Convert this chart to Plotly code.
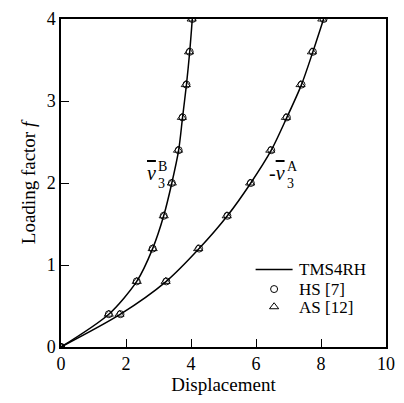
import plotly.graph_objects as go

f_vals = [0, 0.4, 0.8, 1.2, 1.6, 2.0, 2.4, 2.8, 3.2, 3.6, 4.0]
vB_tms = [0, 1.47, 2.33, 2.82, 3.16, 3.41, 3.62, 3.74, 3.86, 3.96, 4.04]
vA_tms = [0, 1.83, 3.24, 4.25, 5.12, 5.84, 6.47, 6.95, 7.40, 7.75, 8.08]
vB_hs = [0, 1.47, 2.33, 2.82, 3.16, 3.41, 3.62, 3.74, 3.86, 3.96, 4.04]
vA_hs = [0, 1.83, 3.24, 4.25, 5.12, 5.84, 6.47, 6.95, 7.40, 7.75, 8.08]
vB_as = [0, 1.47, 2.33, 2.82, 3.16, 3.41, 3.60, 3.72, 3.84, 3.94, 4.02]
vA_as = [0, 1.80, 3.22, 4.22, 5.10, 5.82, 6.44, 6.92, 7.37, 7.72, 8.04]

FONT = "Liberation Serif"
fig = go.Figure()

for xs in (vB_tms, vA_tms):
    fig.add_trace(go.Scatter(x=xs, y=f_vals, mode="lines", line=dict(color="black", width=1.5, shape="spline", smoothing=0.8),
                             showlegend=False, hoverinfo="skip"))
for xs in (vB_hs, vA_hs):
    fig.add_trace(go.Scatter(x=xs, y=f_vals, mode="markers",
                             marker=dict(symbol="circle-open", size=7, color="black", line=dict(width=0.9)),
                             showlegend=False))
for xs in (vB_as, vA_as):
    fig.add_trace(go.Scatter(x=xs, y=f_vals, mode="markers",
                             marker=dict(symbol="triangle-up-open", size=8, color="black", line=dict(width=0.9)),
                             showlegend=False))

# legend (drawn in paper coordinates)
fig.add_shape(type="line", xref="paper", yref="paper", x0=(261-61)/334, x1=(299-61)/334,
              y0=(347-268)/334, y1=(347-268)/334, line=dict(color="black", width=1.5))
fig.add_trace(go.Scatter(x=[(280-61)/33.4], y=[(347-288)/83.5], mode="markers",
                         marker=dict(symbol="circle-open", size=7, color="black", line=dict(width=1)),
                         showlegend=False, hoverinfo="skip"))
fig.add_trace(go.Scatter(x=[(280-61)/33.4], y=[(347-306)/83.5], mode="markers",
                         marker=dict(symbol="triangle-up-open", size=8, color="black", line=dict(width=1)),
                         showlegend=False, hoverinfo="skip"))
for txt, ypx in (("TMS4RH", 268), ("HS [7]", 288), ("AS [12]", 307)):
    fig.add_annotation(x=(304-61)/334, y=(347-ypx)/334, xref="paper", yref="paper", text=txt,
                       showarrow=False, xanchor="left", yanchor="middle", font=dict(family=FONT, size=17, color="black"))

# curve labels
def vlabel(xd, yd, prefix, sup):
    fig.add_annotation(x=xd, y=yd, text=prefix + '<i><span style="text-decoration:overline">v</span></i>',
                       showarrow=False, xanchor="right", yanchor="middle",
                       font=dict(family=FONT, size=20, color="black"))
    fig.add_annotation(x=xd, y=yd, text=sup, showarrow=False, xanchor="left", yanchor="middle", yshift=7, xshift=-2,
                       font=dict(family=FONT, size=14, color="black"))
    fig.add_annotation(x=xd, y=yd, text="3", showarrow=False, xanchor="left", yanchor="middle", yshift=-10, xshift=-2,
                       font=dict(family=FONT, size=14, color="black"))

vlabel(2.98, 2.12, "", "B")
vlabel(6.95, 2.12, "-", "A")

fig.update_xaxes(range=[0, 10], tickvals=[0, 2, 4, 6, 8, 10], ticks="inside", ticklen=8, tickwidth=1.3,
                 tickcolor="black", showline=True, linecolor="black", linewidth=1.5, mirror=True,
                 showgrid=False, zeroline=False, tickfont=dict(family=FONT, size=18, color="black"),
                 title=dict(text="Displacement", font=dict(family=FONT, size=19, color="black"), standoff=0))
fig.update_yaxes(range=[0, 4], tickvals=[0, 1, 2, 3, 4], ticks="inside", ticklen=8, tickwidth=1.3,
                 tickcolor="black", showline=True, linecolor="black", linewidth=1.5, mirror=True,
                 showgrid=False, zeroline=False, tickfont=dict(family=FONT, size=18, color="black"),
                 title=dict(text="Loading factor <i>f</i>", font=dict(family=FONT, size=19, color="black"), standoff=6))
fig.update_layout(width=404, height=403, margin=dict(l=61, r=9, t=13, b=56),
                  plot_bgcolor="white", paper_bgcolor="white", showlegend=False)
fig.write_html("out.html")
